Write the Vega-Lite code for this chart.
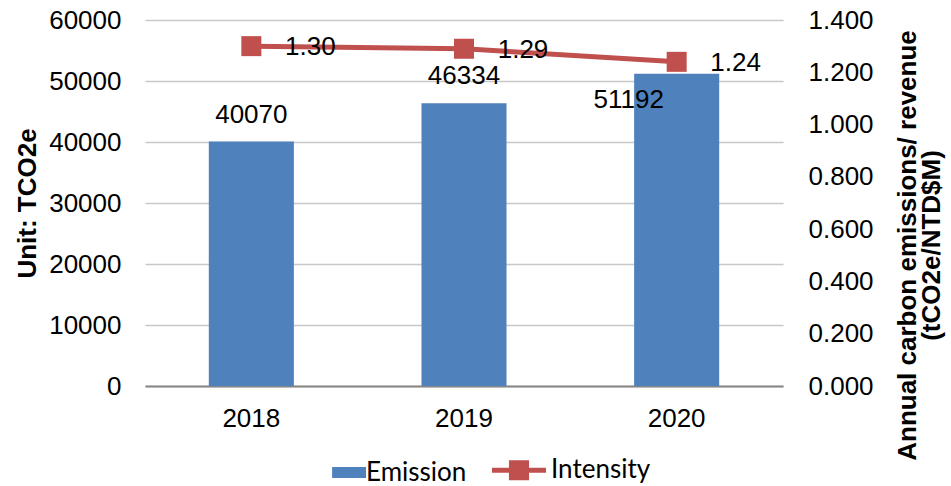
{
  "$schema": "https://vega.github.io/schema/vega-lite/v6.json",
  "autosize": {"type": "none"},
  "width": 638,
  "height": 366,
  "padding": {"left": 145, "top": 20, "right": 168, "bottom": 100},
  "background": "white",
  "config": {
    "view": {"stroke": null},
    "font": "Liberation Sans",
    "axis": {
      "labelFont": "Liberation Sans",
      "titleFont": "Liberation Sans",
      "labelColor": "#000000",
      "titleColor": "#000000",
      "labelFontSize": 26,
      "titleFontSize": 26
    }
  },
  "data": {
    "values": [
      {"Year": "2018", "Emission": 40070, "Intensity": 1.30},
      {"Year": "2019", "Emission": 46334, "Intensity": 1.29},
      {"Year": "2020", "Emission": 51192, "Intensity": 1.24}
    ]
  },
  "encoding": {
    "x": {
      "field": "Year",
      "type": "nominal",
      "scale": {"paddingInner": 0.6, "paddingOuter": 0.3},
      "axis": {
        "title": null,
        "labelAngle": 0,
        "ticks": false,
        "grid": false,
        "domainColor": "#868686",
        "domainWidth": 2,
        "labelPadding": 19
      }
    }
  },
  "layer": [
    {
      "encoding": {
        "y": {
          "field": "Emission",
          "type": "quantitative",
          "scale": {"domain": [0, 60000], "nice": false},
          "axis": {
            "title": "Unit: TCO2e",
            "titleFontWeight": "bold",
            "titleAngle": 270,
            "titleX": -110,
            "titleBaseline": "alphabetic",
            "values": [0, 10000, 20000, 30000, 40000, 50000, 60000],
            "format": "d",
            "grid": true,
            "gridColor": "#C8C8C8",
            "gridWidth": 1.5,
            "domain": false,
            "ticks": false,
            "labelPadding": 24
          }
        }
      },
      "layer": [
        {
          "mark": {"type": "bar", "color": "#4F81BD"},
          "encoding": {
            "color": {
              "datum": "Emission",
              "type": "nominal",
              "scale": {"domain": ["Emission", "Intensity"], "range": ["#4F81BD", "#C0504D"]},
              "legend": {
                "orient": "none",
                "legendX": 176,
                "legendY": 437,
                "direction": "horizontal",
                "title": null,
                "padding": 0,
                "labelFont": "Lato",
                "labelFontSize": 26,
                "labelLimit": 0,
                "labelBaseline": "middle",
                "labelColor": "#000000",
                "labelOffset": 19,
                "columnPadding": 15,
                "symbolSize": 2916,
                "encode": {
                  "symbols": {
                    "update": {
                      "shape": {"signal": "datum.value === 'Emission' ? 'M-0.07,-0.2H1.185V0.2H-0.07Z' : 'M-1,0H1M-0.28,-0.28H0.28V0.28H-0.28Z'"},
                      "size": {"value": 2916},
                      "fill": {"signal": "datum.value === 'Emission' ? '#4F81BD' : '#C0504D'"},
                      "stroke": {"value": "#C0504D"},
                      "strokeWidth": {"signal": "datum.value === 'Emission' ? 0 : 5"},
                      "opacity": {"value": 1},
                      "fillOpacity": {"value": 1},
                      "strokeOpacity": {"value": 1}
                    }
                  }
                }
              }
            }
          }
        },
        {
          "transform": [{"filter": "datum.Year != '2020'"}],
          "mark": {"type": "text", "fontSize": 26, "baseline": "middle", "dy": -27, "color": "#000000"},
          "encoding": {"text": {"field": "Emission", "type": "quantitative", "format": "d"}}
        },
        {
          "transform": [{"filter": "datum.Year == '2020'"}],
          "mark": {"type": "text", "fontSize": 26, "baseline": "middle", "dx": -48, "dy": 26, "color": "#000000"},
          "encoding": {"text": {"field": "Emission", "type": "quantitative", "format": "d"}}
        }
      ]
    },
    {
      "encoding": {
        "y": {
          "field": "Intensity",
          "type": "quantitative",
          "scale": {"domain": [0, 1.4], "nice": false},
          "axis": {
            "orient": "right",
            "title": ["Annual carbon emissions/ revenue", "(tCO2e/NTD$M)"],
            "titleFontWeight": "bold",
            "titleAngle": 270,
            "titleBaseline": "alphabetic",
            "titleAlign": "center",
            "titleX": 132,
            "titleY": 225,
            "titleLineHeight": 24,
            "values": [0, 0.2, 0.4, 0.6, 0.8, 1, 1.2, 1.4],
            "format": ".3f",
            "grid": false,
            "domain": false,
            "ticks": false,
            "labelPadding": 25
          }
        }
      },
      "layer": [
        {
          "mark": {
            "type": "line",
            "strokeWidth": 5,
            "point": {"shape": "square", "size": 400, "filled": true, "color": "#C0504D", "opacity": 1}
          },
          "encoding": {"color": {"datum": "Intensity", "type": "nominal"}}
        },
        {
          "mark": {"type": "text", "fontSize": 26, "baseline": "middle", "dx": 59, "dy": 1, "color": "#000000"},
          "encoding": {"text": {"field": "Intensity", "type": "quantitative", "format": ".2f"}}
        }
      ]
    }
  ],
  "resolve": {"scale": {"y": "independent"}}
}
